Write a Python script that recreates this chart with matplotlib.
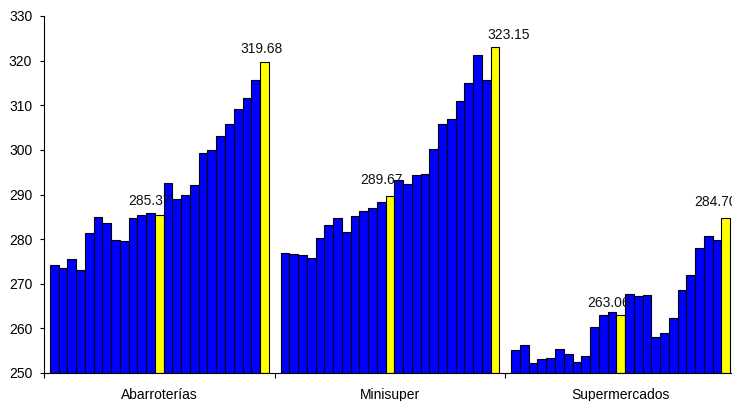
import matplotlib
matplotlib.use("Agg")
import matplotlib.pyplot as plt
import numpy as np

plt.rcParams['font.family'] = ['Liberation Sans', 'DejaVu Sans']

categories = ["Abarroterías", "Minisuper", "Supermercados"]

abarroterias = [274.1, 273.5, 275.5, 273.1, 281.4, 285.0, 283.6, 279.7, 279.6, 284.7, 285.3, 285.8,
                285.37, 292.6, 288.9, 289.9, 292.2, 299.3, 300.0, 303.2, 305.9, 309.2, 311.6, 315.7,
                319.68]
minisuper = [277.0, 276.7, 276.4, 275.8, 280.2, 283.2, 284.7, 281.5, 285.2, 286.4, 287.0, 288.3,
             289.67, 293.2, 292.4, 294.4, 294.6, 300.3, 305.8, 306.9, 310.9, 314.9, 321.2, 315.7,
             323.15]
supermercados = [255.2, 256.3, 252.2, 253.1, 253.4, 255.4, 254.2, 252.4, 253.7, 260.4, 263.1, 263.6,
                 263.06, 267.7, 267.3, 267.5, 258.0, 258.9, 262.4, 268.6, 272.0, 278.1, 280.8, 279.8,
                 284.70]
series = [abarroterias, minisuper, supermercados]
highlight_idx = [12, 24]  # yellow bars (labelled)
yticks = [250, 260, 270, 280, 290, 300, 310, 320, 330]

fig = plt.figure(figsize=(7.32, 4.01), dpi=100)
ax = fig.add_axes([44/732, 28/401, 692/732, 357/401])

n = len(abarroterias)
group_w = n + 1.34
margin = 0.67
# label offsets in px (dx, gap above bar)
label_off = {(0, 12): (-10, 10), (0, 24): (-3, 9),
             (1, 12): (-9, 12), (1, 24): (14, 8),
             (2, 12): (-12, 8), (2, 24): (-10, 12)}

for g, vals in enumerate(series):
    xs = g * group_w + margin + np.arange(n) + 0.5
    colors = ['#FFFF00' if i in highlight_idx else '#0000FF' for i in range(n)]
    ax.bar(xs, np.array(vals) - 250, bottom=250, width=1.0, color=colors,
           edgecolor='black', linewidth=0.8)
    for i in highlight_idx:
        dx, dy = label_off[(g, i)]
        ax.annotate(f"{vals[i]:.2f}", xy=(xs[i], vals[i]),
                    xytext=(dx * 0.72, dy * 0.72), textcoords='offset points',
                    ha='center', va='baseline', fontsize=10, color='#111111',
                    annotation_clip=False)

ax.set_ylim(250, 330)
ax.set_xlim(0, 3 * group_w)
ax.set_yticks(yticks)
ax.set_yticklabels([str(v) for v in yticks])
ax.tick_params(axis='y', length=3, width=0.8, pad=5.5, labelsize=10)

ax.set_xticks([g * group_w for g in range(4)])
ax.set_xticklabels([])
ax.tick_params(axis='x', which='major', length=3.5, width=0.8)
ax.set_xticks([(g + 0.5) * group_w for g in range(3)], minor=True)
ax.set_xticklabels(categories, minor=True)
ax.tick_params(axis='x', which='minor', length=0, pad=10.5, labelsize=10)

for s in ['top', 'right']:
    ax.spines[s].set_visible(False)
for s in ['left', 'bottom']:
    ax.spines[s].set_linewidth(0.8)

fig.savefig("out.png", dpi=100)
